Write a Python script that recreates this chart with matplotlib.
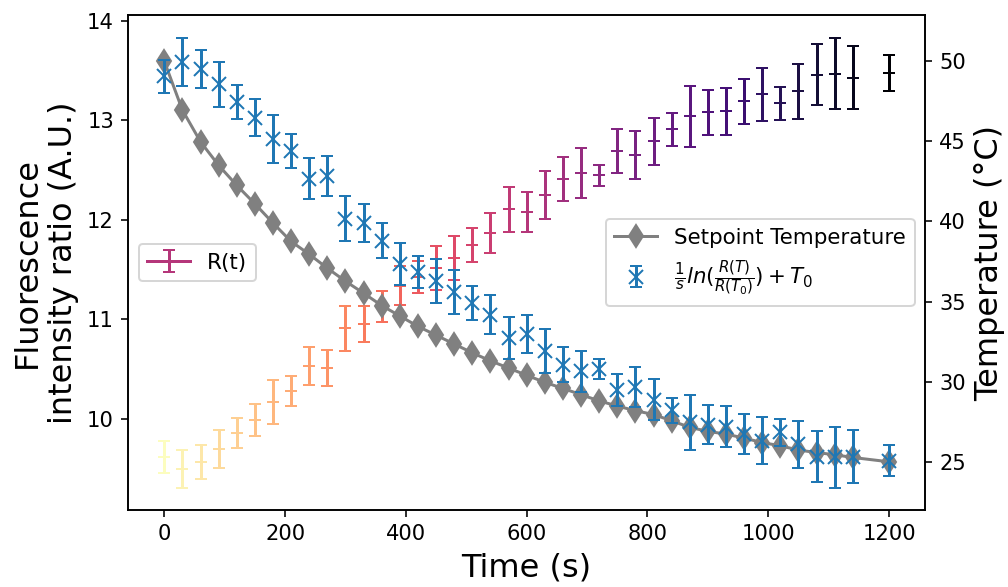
import numpy as np
import matplotlib.pyplot as plt

# measurement times (s)
time = [0, 30, 60, 90, 120, 150, 180, 210, 240, 270, 300, 330, 360, 390,
        420, 450, 480, 510, 540, 570, 600, 630, 660, 690, 720, 750, 780,
        810, 840, 870, 900, 930, 960, 990, 1020, 1050, 1080, 1110, 1140, 1200]

# fluorescence intensity ratio R(t)
ratio = [9.62, 9.50, 9.565, 9.70, 9.856, 9.99, 10.17, 10.28, 10.53, 10.51,
         10.91, 10.95, 11.13, 11.34, 11.43, 11.52, 11.62, 11.745, 11.865,
         12.106, 12.08, 12.25, 12.41, 12.47, 12.45, 12.69, 12.65, 12.79,
         12.91, 13.04, 13.08, 13.09, 13.19, 13.26, 13.17, 13.29, 13.46,
         13.47, 13.43, 13.48]
ratio_err = [0.16, 0.19, 0.17, 0.19, 0.15, 0.16, 0.22, 0.15, 0.19, 0.18,
             0.225, 0.18, 0.16, 0.2, 0.16, 0.22, 0.22, 0.17, 0.2, 0.225,
             0.2, 0.24, 0.22, 0.25, 0.105, 0.22, 0.24, 0.235, 0.165, 0.31,
             0.23, 0.24, 0.23, 0.27, 0.17, 0.275, 0.305, 0.36, 0.315, 0.18]

# setpoint temperature (C)
setpoint = [50.0, 46.95, 44.97, 43.5, 42.25, 41.1, 39.9, 38.75, 37.95, 37.08,
            36.27, 35.52, 34.75, 34.1, 33.45, 32.9, 32.35, 31.8, 31.3, 30.85,
            30.4, 29.96, 29.58, 29.19, 28.8, 28.48, 28.19, 27.95, 27.56, 27.15,
            26.9, 26.73, 26.48, 26.2, 26.0, 25.73, 25.58, 25.44, 25.27, 25.0]

# temperature computed from R(t)
temp_calc = [49.06, 49.96, 49.5, 48.56, 47.46, 46.48, 45.17, 44.4, 42.67, 42.83,
             40.17, 39.9, 38.8, 37.35, 36.83, 36.3, 35.6, 34.9, 34.19, 32.73,
             32.98, 31.94, 31.06, 30.64, 30.79, 29.48, 29.69, 28.88, 28.23, 27.46,
             27.31, 27.19, 26.73, 26.31, 26.83, 26.1, 25.31, 25.27, 25.31, 25.06]
temp_err = [1.03, 1.5, 1.2, 1.4, 1.05, 1.15, 1.5, 1.05, 1.3, 1.24,
            1.4, 1.17, 1.1, 1.3, 1.0, 1.37, 1.37, 1.07, 1.22, 1.33,
            1.18, 1.37, 1.1, 1.28, 0.6, 0.97, 1.25, 1.3, 0.78, 1.7,
            1.23, 1.27, 1.23, 1.46, 0.83, 1.47, 1.6, 1.88, 1.65, 0.97]

fig, ax = plt.subplots(figsize=(7, 4.0764), dpi=144)
ax2 = ax.twinx()

cmap = plt.cm.magma_r
for t, r, e in zip(time, ratio, ratio_err):
    lab = 'R(t)' if t == 600 else None
    ax.errorbar(t, r, yerr=e, color=cmap(t / max(time)), marker='_',
                capsize=3, label=lab)

ax2.plot(time, setpoint, color='gray', marker='d', ms=8,
         label='Setpoint Temperature')
ax2.errorbar(time, temp_calc, yerr=temp_err, fmt='x', color='C0', ms=7,
             capsize=3, label=r'$\frac{1}{s}ln(\frac{R(T)}{R(T_0)}) + T_0$')

ax.set_xticks([0, 200, 400, 600, 800, 1000, 1200])
ax.tick_params(labelsize=10.5)
ax2.tick_params(labelsize=10.5)
ax.set_xlabel('Time (s)', fontsize=16)
ax.set_ylabel('Fluorescence\nintensity ratio (A.U.)', fontsize=16)
ax2.set_ylabel('Temperature (°C)', fontsize=16)

ax.legend(loc='center left', fontsize=10.7)
ax2.legend(loc='center right', fontsize=10.7)

plt.subplots_adjust(left=0.127, right=0.918, top=0.974, bottom=0.131)
fig.savefig('out.png', dpi=144)
